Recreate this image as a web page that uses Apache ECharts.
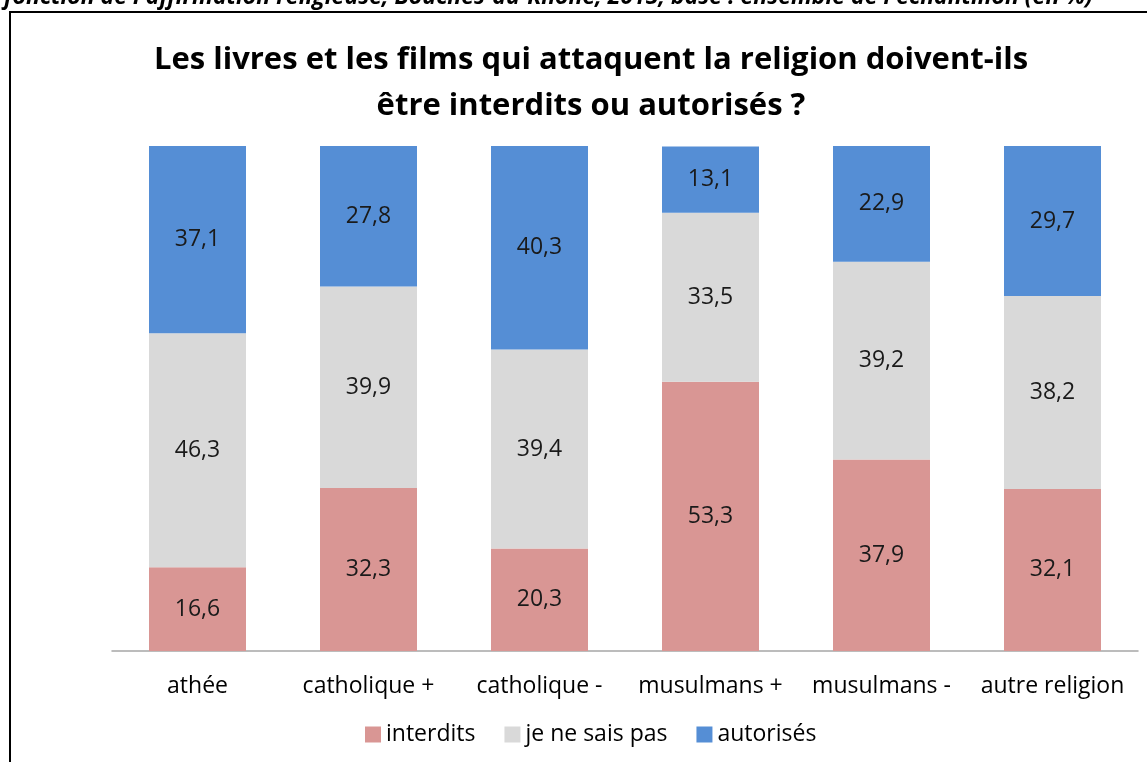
<!DOCTYPE html>
<html>
<head>
<meta charset="utf-8">
<script src="https://cdn.jsdelivr.net/npm/echarts@6/dist/echarts.min.js"></script>
<style>
  html, body { margin: 0; padding: 0; background: #fff; }
  #chart { width: 1147px; height: 762px; }
</style>
</head>
<body>
<div id="chart"></div>
<script>
const categories = ['athée', 'catholique +', 'catholique -', 'musulmans +', 'musulmans -', 'autre religion']
const interdits = [16.6, 32.3, 20.3, 53.3, 37.9, 32.1]
const neSaisPas = [46.3, 39.9, 39.4, 33.5, 39.2, 38.2]
const autorises = [37.1, 27.8, 40.3, 13.1, 22.9, 29.7]

const font = '"Open Sans", "DejaVu Sans", sans-serif'

function makeSeries(name, data, color) {
  return {
    name: name,
    type: 'bar',
    stack: 'total',
    barWidth: 97,
    data: data,
    itemStyle: { color: color },
    label: {
      show: true,
      position: 'inside',
      color: '#1a1a1a',
      fontFamily: font,
      fontSize: 23,
      formatter: p => String(p.value).replace('.', ',')
    }
  }
}

const chart = echarts.init(document.getElementById('chart'))
chart.setOption({
  backgroundColor: '#fff',
  animation: false,
  title: {
    text: 'Les livres et les films qui attaquent la religion doivent-ils\nêtre interdits ou autorisés ?',
    left: 586,
    textAlign: 'center',
    top: 32,
    textStyle: {
      fontFamily: font,
      fontWeight: 'bold',
      fontSize: 31,
      lineHeight: 46,
      color: '#000'
    }
  },
  graphic: [
    {
      type: 'text',
      left: 4,
      top: -14,
      style: {
        text: "fonction de l'affirmation religieuse, Bouches-du-Rhône, 2015, base : ensemble de l'échantillon (en %)",
        font: 'italic bold 23px ' + font,
        fill: '#000'
      }
    },
    {
      type: 'polyline',
      shape: { points: [[10, 762], [10, 12], [1147, 12]] },
      style: { stroke: '#000', lineWidth: 2, fill: null }
    }
  ],
  legend: {
    bottom: 11,
    left: 360,
    itemWidth: 16,
    itemHeight: 16,
    itemGap: 29,
    icon: 'rect',
    textStyle: { fontFamily: font, fontSize: 23, color: '#000' },
    data: ['interdits', 'je ne sais pas', 'autorisés']
  },
  grid: { left: 112, right: 9, top: 146, bottom: 111 },
  xAxis: {
    type: 'category',
    data: categories,
    axisLine: { lineStyle: { color: '#a6a6a6', width: 1.5 } },
    axisTick: { show: false },
    axisLabel: { interval: 0, fontFamily: font, fontSize: 23, color: '#000', margin: 24 }
  },
  yAxis: {
    type: 'value',
    min: 0,
    max: 100,
    show: false
  },
  series: [
    makeSeries('interdits', interdits, '#d99694'),
    makeSeries('je ne sais pas', neSaisPas, '#d9d9d9'),
    makeSeries('autorisés', autorises, '#558ed5')
  ]
})
</script>
</body>
</html>
